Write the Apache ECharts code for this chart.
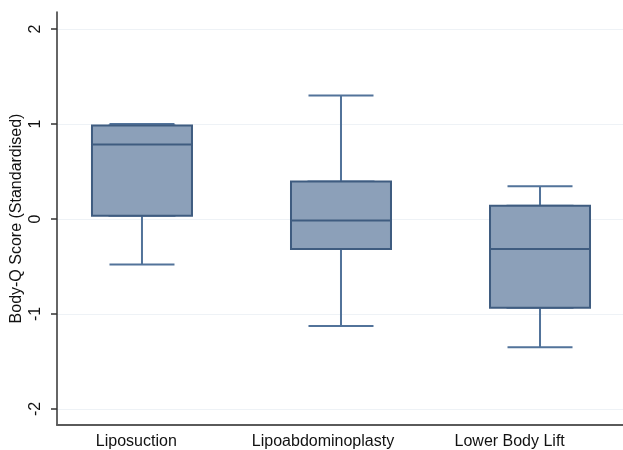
<!DOCTYPE html>
<html>
<head>
<meta charset="utf-8">
<script src="https://cdn.jsdelivr.net/npm/echarts@6/dist/echarts.min.js"></script>
<style>
html,body{margin:0;padding:0;background:#fff;}
#chart{width:623px;height:450px;}
</style>
</head>
<body>
<div id="chart"></div>
<script>
// ---- data ----
const categories = ['Liposuction', 'Lipoabdominoplasty', 'Lower Body Lift'];
const whiskerLow  = [-0.48, -1.125, -1.35];
const quartile1   = [0.035, -0.315, -0.935];
const medians     = [0.785, -0.015, -0.315];
const quartile3   = [0.985, 0.395, 0.14];
const whiskerHigh = [1.0, 1.30, 0.345];
const yTicks      = [-2, -1, 0, 1, 2];
const yTitle      = 'Body-Q Score (Standardised)';

// ---- build ----
const fullBoxes = categories.map((c, i) => [i, whiskerLow[i], quartile1[i], medians[i], quartile3[i], whiskerHigh[i]]);
const bodyBoxes = categories.map((c, i) => [i, quartile1[i], quartile1[i], medians[i], quartile3[i], quartile3[i]]);

const FONT = 'Liberation Sans';
const fill = '#8CA0B9';
const edge = '#3F5C80';
const whisker = '#52739A';

const chart = echarts.init(document.getElementById('chart'), null, {renderer: 'canvas'});
chart.setOption({
  animation: false,
  backgroundColor: '#ffffff',
  grid: [
    {left: 57, right: 0, top: 29, height: 380},       // boxes, ticks, labels, grid lines
    {left: 57, right: 0, top: 12, bottom: 25},        // axis lines
    {left: 43, width: 560, top: 29, bottom: 25}       // category labels
  ],
  xAxis: [
    {type: 'value', gridIndex: 0, min: -0.427, max: 2.417, show: false, axisLine: {onZero: false}},
    {type: 'value', gridIndex: 1, min: 0, max: 1, axisLine: {show: true, onZero: false, lineStyle: {color: '#5a5a5a', width: 2}},
     axisTick: {show: false}, axisLabel: {show: false}, splitLine: {show: false}},
    {type: 'category', gridIndex: 2, data: categories, axisLine: {show: false, onZero: false}, axisTick: {show: false},
     axisLabel: {color: '#111', fontFamily: FONT, fontSize: 16, margin: 9}},
    {type: 'value', gridIndex: 0, position: 'top', min: -0.427, max: 2.417, show: false, axisLine: {onZero: false}}
  ],
  yAxis: [
    {type: 'value', gridIndex: 0, min: yTicks[0], max: yTicks[yTicks.length - 1], interval: 1,
     axisLine: {show: false, onZero: false},
     axisTick: {show: true, length: 6, lineStyle: {color: '#333', width: 1.5}},
     axisLabel: {color: '#111', fontFamily: FONT, fontSize: 16, rotate: 90, margin: 13},
     splitLine: {show: true, lineStyle: {color: '#eef2f6', width: 1}}},
    {type: 'value', gridIndex: 1, min: 0, max: 1, axisLine: {show: true, onZero: false, lineStyle: {color: '#333', width: 1.5}},
     axisTick: {show: false}, axisLabel: {show: false}, splitLine: {show: false},
     name: yTitle, nameLocation: 'middle', nameGap: 32,
     nameTextStyle: {color: '#111', fontFamily: FONT, fontSize: 16}},
    {type: 'value', gridIndex: 2, show: false, axisLine: {onZero: false}}
  ],
  series: [
    {
      type: 'boxplot', xAxisIndex: 3, yAxisIndex: 0, layout: 'horizontal',
      data: fullBoxes, boxWidth: [65, 65],
      itemStyle: {color: fill, borderColor: whisker, borderWidth: 2},
      emphasis: {disabled: true}, silent: true
    },
    {
      type: 'boxplot', xAxisIndex: 0, yAxisIndex: 0, layout: 'horizontal',
      data: bodyBoxes, boxWidth: [100, 100],
      itemStyle: {color: fill, borderColor: edge, borderWidth: 2},
      emphasis: {disabled: true}, silent: true
    }
  ]
});
</script>
</body>
</html>
